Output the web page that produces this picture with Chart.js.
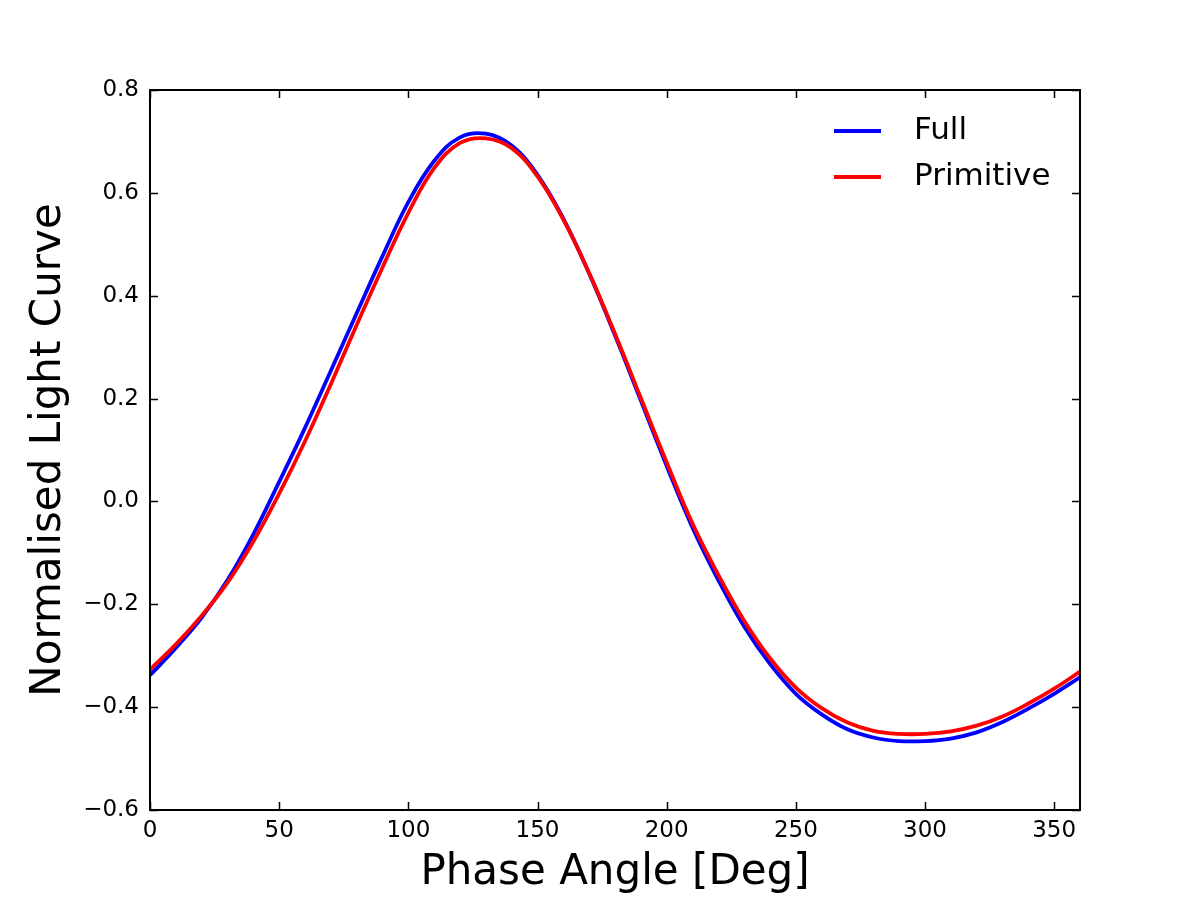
<!DOCTYPE html>
<html>
<head>
<meta charset="utf-8">
<title>Light Curve</title>
<script src="https://cdn.jsdelivr.net/npm/chart.js@4.4.1/dist/chart.umd.min.js"></script>
<style>
  html, body { margin: 0; padding: 0; background: #fff; }
  #wrap { width: 1200px; height: 900px; }
</style>
</head>
<body>
<div id="wrap"><canvas id="lightChart" width="1200" height="900"></canvas></div>
<script>
// Phase angle samples (deg)
const phase = [0, 10, 20, 30, 40, 50, 60, 70, 80, 90, 100, 110, 120, 130, 140, 150, 160, 170, 180,
    190, 200, 210, 220, 230, 240, 250, 260, 270, 280, 290, 300, 310, 320, 330, 340, 350, 360];

// Full model light curve
const fullCurve = [-0.338, -0.285, -0.226, -0.153, -0.064, 0.038, 0.143, 0.254, 0.366, 0.477, 0.582, 0.662,
    0.708, 0.715, 0.692, 0.635, 0.550, 0.443, 0.323, 0.196, 0.069, -0.051, -0.153, -0.243, -0.316,
    -0.374, -0.414, -0.443, -0.459, -0.466, -0.466, -0.461, -0.449, -0.429, -0.403, -0.374, -0.342];

// Primitive model light curve
const primitiveCurve = [-0.327, -0.278, -0.222, -0.158, -0.078, 0.015, 0.117, 0.228, 0.343, 0.455, 0.561, 0.648,
    0.697, 0.706, 0.687, 0.632, 0.548, 0.444, 0.326, 0.201, 0.076, -0.043, -0.143, -0.232, -0.305,
    -0.362, -0.402, -0.430, -0.446, -0.452, -0.452, -0.447, -0.436, -0.418, -0.393, -0.364, -0.331];

const seriesNames = ['Full', 'Primitive'];
const xTicks = [0, 50, 100, 150, 200, 250, 300, 350];
const yTicks = [-0.6, -0.4, -0.2, 0.0, 0.2, 0.4, 0.6, 0.8];

const FONT = "'DejaVu Sans', 'Liberation Sans', sans-serif";

function toPoints(values) {
    return phase.map((p, i) => ({ x: p, y: values[i] }));
}

// Draws the matplotlib-like box, inward ticks and legend
const frameAndLegend = {
    id: 'frameAndLegend',
    afterDraw(chart) {
        const ctx = chart.ctx;
        const area = chart.chartArea;
        const xs = chart.scales.x;
        const ys = chart.scales.y;
        const len = 8;

        ctx.save();
        ctx.strokeStyle = '#000';
        ctx.lineWidth = 1.5;
        ctx.beginPath();
        xTicks.forEach(v => {
            const px = Math.round(xs.getPixelForValue(v)) + 0.5;
            ctx.moveTo(px, area.bottom); ctx.lineTo(px, area.bottom - len);
            ctx.moveTo(px, area.top); ctx.lineTo(px, area.top + len);
        });
        yTicks.forEach(v => {
            const py = Math.round(ys.getPixelForValue(v)) + 0.5;
            ctx.moveTo(area.left, py); ctx.lineTo(area.left + len, py);
            ctx.moveTo(area.right, py); ctx.lineTo(area.right - len, py);
        });
        ctx.stroke();

        ctx.lineWidth = 2;
        ctx.strokeRect(area.left, area.top, area.right - area.left, area.bottom - area.top);

        // legend
        ctx.font = '31px ' + FONT;
        ctx.textBaseline = 'middle';
        ctx.textAlign = 'left';
        chart.data.datasets.forEach((ds, i) => {
            const y = 131 + i * 46;
            ctx.strokeStyle = ds.borderColor;
            ctx.lineWidth = 4;
            ctx.beginPath();
            ctx.moveTo(834, y);
            ctx.lineTo(881, y);
            ctx.stroke();
            ctx.fillStyle = '#000';
            ctx.fillText(ds.label, 914, y);
        });
        ctx.restore();
    }
};

const ctx = document.getElementById('lightChart').getContext('2d');
new Chart(ctx, {
    type: 'line',
    data: {
        datasets: [
            {
                label: seriesNames[0],
                data: toPoints(fullCurve),
                borderColor: '#0000ff',
                borderWidth: 3.8,
                pointRadius: 0,
                tension: 0.4,
                order: 1,
                fill: false
            },
            {
                label: seriesNames[1],
                data: toPoints(primitiveCurve),
                borderColor: '#ff0000',
                borderWidth: 3.8,
                pointRadius: 0,
                tension: 0.4,
                order: 0,
                fill: false
            }
        ]
    },
    options: {
        responsive: false,
        animation: false,
        layout: { padding: { left: 0, right: 120, top: 90, bottom: 0 } },
        plugins: {
            legend: { display: false },
            tooltip: { enabled: false }
        },
        scales: {
            x: {
                type: 'linear',
                min: 0,
                max: 360,
                afterBuildTicks: scale => { scale.ticks = xTicks.map(v => ({ value: v })); },
                afterFit: scale => { scale.height = 90; },
                grid: { display: false, drawTicks: false },
                border: { display: false },
                ticks: {
                    padding: 7,
                    maxRotation: 0,
                    color: '#000',
                    font: { family: FONT, size: 23 },
                    callback: v => String(v)
                },
                title: {
                    display: true,
                    text: 'Phase Angle [Deg]',
                    color: '#000',
                    font: { family: FONT, size: 42 },
                    padding: { top: 0, bottom: 2 }
                }
            },
            y: {
                type: 'linear',
                min: -0.6,
                max: 0.8,
                afterBuildTicks: scale => { scale.ticks = yTicks.map(v => ({ value: v })); },
                afterFit: scale => { scale.width = 150; },
                grid: { display: false, drawTicks: false },
                border: { display: false },
                ticks: {
                    padding: 11,
                    color: '#000',
                    font: { family: FONT, size: 23 },
                    callback: v => Math.abs(v) < 1e-9 ? '0.0' : v.toFixed(1).replace('-', '\u2212')
                },
                title: {
                    display: true,
                    text: 'Normalised Light Curve',
                    color: '#000',
                    font: { family: FONT, size: 42 },
                    padding: { top: 24, bottom: 0 }
                }
            }
        }
    },
    plugins: [frameAndLegend]
});
</script>
</body>
</html>
